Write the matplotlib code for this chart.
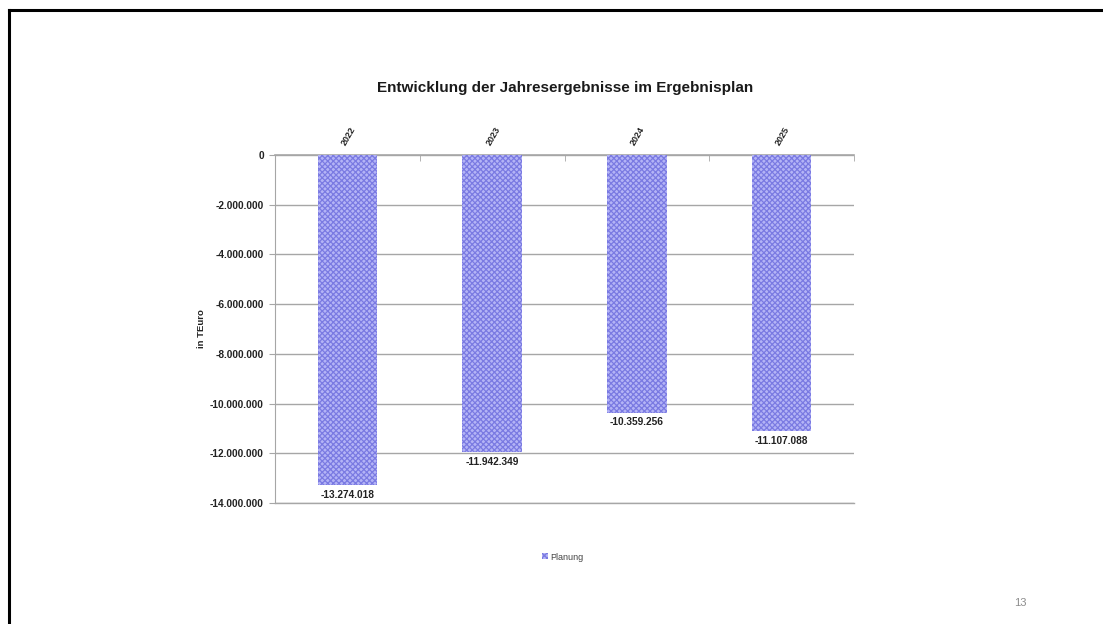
import matplotlib
matplotlib.use("Agg")
import matplotlib.pyplot as plt
import matplotlib.transforms as mtransforms
from matplotlib.patches import Patch
from matplotlib.lines import Line2D
from matplotlib.ticker import FuncFormatter, MultipleLocator

years = ["2022", "2023", "2024", "2025"]
values = [-13274018, -11942349, -10359256, -11107088]
series_name = "Planung"
title = "Entwicklung der Jahresergebnisse im Ergebnisplan"
ylabel = "in TEuro"

plt.rcParams['font.family'] = ['Liberation Sans', 'DejaVu Sans']
plt.rcParams['hatch.linewidth'] = 0.9

BAR_FACE = '#b4b4f6'
HATCH_COL = '#7a7ae2'

def de_fmt(v):
    s = f"{abs(int(round(v))):,}".replace(",", ".")
    return ("-" if v < 0 else "") + s

fig = plt.figure(figsize=(11.03, 6.24), dpi=100)
ax = fig.add_axes([275/1103, 1-503/624, 579/1103, 348/624])

x = list(range(len(years)))
bars = ax.bar(x, values, width=0.41, facecolor=BAR_FACE, hatch='xxxxxx',
              edgecolor=HATCH_COL, linewidth=0, zorder=3)

ax.set_xlim(-0.5, len(years) - 0.5)
ax.set_ylim(-14000000, 0)
ax.yaxis.set_major_locator(MultipleLocator(2000000))
ax.yaxis.set_major_formatter(FuncFormatter(lambda v, p: de_fmt(v)))
ax.grid(axis='y', color='#a6a6a6', linewidth=1.0, zorder=0)

ax.xaxis.tick_top()
ax.set_xticks(x)
ax.set_xticklabels(years, rotation=60, ha='left', va='bottom',
                   rotation_mode='anchor',
                   fontsize=6.5, fontweight='bold', color='#222222')
shift = mtransforms.ScaledTranslation(5/100, 0, fig.dpi_scale_trans)
for lab in ax.get_xticklabels():
    lab.set_transform(lab.get_transform() + shift)
ax.set_xticks([i - 0.5 for i in range(len(years) + 1)], minor=True)
ax.tick_params(axis='x', which='major', length=0, pad=6)
ax.tick_params(axis='x', which='minor', direction='in', length=4,
               color='#a6a6a6', top=True, bottom=False)
ax.tick_params(axis='y', which='major', length=4, color='#a6a6a6',
               labelsize=7.3, pad=4, labelcolor='#222222')
for lab in ax.get_yticklabels():
    lab.set_fontweight('bold')

ax.spines['right'].set_visible(False)
for s in ['left', 'top', 'bottom']:
    ax.spines[s].set_color('#a6a6a6')
ax.spines['top'].set_linewidth(1.2)
ax.spines['bottom'].set_linewidth(1.0)

for xi, v in zip(x, values):
    ax.annotate(de_fmt(v), (xi, v), xytext=(0, -3.5), textcoords='offset points',
                ha='center', va='top', fontsize=7.3, fontweight='bold',
                color='#222222')

ax.set_ylabel(ylabel, fontsize=6.8, fontweight='bold', color='#222222')
ax.yaxis.set_label_coords(-0.12, 0.5)

fig.text(565/1103, 1-88/624, title, ha='center', va='center', fontsize=11,
         fontweight='bold', color='#1a1a1a')

handle = Patch(facecolor=BAR_FACE, hatch='xxxxxx', edgecolor=HATCH_COL, linewidth=0)
fig.legend([handle], [series_name], loc='center', bbox_to_anchor=(563/1103, 1-557/624),
           frameon=False, fontsize=6.5, handlelength=0.6, handleheight=0.6,
           handletextpad=0.3, labelcolor='#444444')

fig.text(1020/1103, 1-603/624, "13", ha='center', va='center', fontsize=8,
         color='#8c8c8c')

# slide frame: left and top edges
fig.add_artist(Line2D([9/1103, 9/1103], [0, 1-10/624], transform=fig.transFigure,
                      color='black', linewidth=2.2))
fig.add_artist(Line2D([9/1103, 1], [1-10/624, 1-10/624], transform=fig.transFigure,
                      color='black', linewidth=2.2))

fig.savefig("out.png", dpi=100)
